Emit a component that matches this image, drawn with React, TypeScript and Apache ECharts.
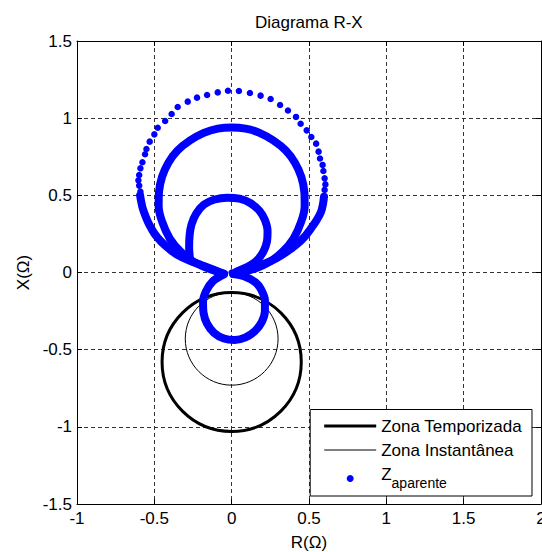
import React, { useEffect, useRef } from 'react';
import * as echarts from 'echarts';

const FONT = "'Liberation Sans', Arial, Helvetica, sans-serif";

const xRange = [-1, 2];
const yRange = [-1.5, 1.5];
const tickStep = 0.5;

// Mho zones: [center R, center X, radius]
const zonaTemporizada = [0, -0.58, 0.45];
const zonaInstantanea = [0, -0.43, 0.3];

// Apparent impedance trajectory (R, X)
const zOuterDots = [
  [-0.59, 0.524], [-0.598, 0.563], [-0.603, 0.597], [-0.598, 0.632], [-0.59, 0.675],
  [-0.577, 0.714], [-0.56, 0.766], [-0.551, 0.8], [-0.53, 0.848], [-0.5, 0.895],
  [-0.478, 0.938], [-0.43, 0.982], [-0.388, 1.027], [-0.349, 1.072], [-0.284, 1.107],
  [-0.224, 1.133], [-0.159, 1.15], [-0.09, 1.167], [-0.024, 1.178],
  [0.047, 1.176], [0.118, 1.163], [0.187, 1.146], [0.252, 1.124], [0.313, 1.085],
  [0.364, 1.05], [0.416, 1.008], [0.446, 0.964], [0.485, 0.921], [0.515, 0.878],
  [0.546, 0.835], [0.562, 0.783], [0.571, 0.739], [0.588, 0.697], [0.593, 0.658],
  [0.601, 0.61], [0.606, 0.571], [0.601, 0.535], [0.597, 0.491],
  [0, 0],
];

const zOuterLeftTail = [
  [-0.592, 0.5], [-0.587, 0.47], [-0.575, 0.415], [-0.555, 0.36], [-0.532, 0.308],
  [-0.498, 0.25], [-0.456, 0.2], [-0.4, 0.15], [-0.349, 0.113], [-0.27, 0.075],
  [-0.198, 0.049], [-0.12, 0.02], [-0.05, -0.008],
];

const zOuterRightTail = [
  [0.597, 0.491], [0.59, 0.44], [0.578, 0.394], [0.55, 0.34], [0.513, 0.286],
  [0.47, 0.23], [0.416, 0.178], [0.35, 0.13], [0.287, 0.091], [0.22, 0.06],
  [0.158, 0.038], [0.08, 0.012], [0.01, -0.008],
];

const zMiddleLoop = [
  [-0.05, -0.008], [-0.15, 0.025], [-0.25, 0.072], [-0.33, 0.135], [-0.4, 0.22],
  [-0.45, 0.33], [-0.472, 0.43], [-0.47, 0.52], [-0.45, 0.62], [-0.41, 0.71],
  [-0.35, 0.79], [-0.27, 0.855], [-0.18, 0.905], [-0.09, 0.932], [0, 0.94],
  [0.09, 0.932], [0.18, 0.905], [0.27, 0.855], [0.35, 0.79], [0.41, 0.71],
  [0.45, 0.62], [0.47, 0.52], [0.472, 0.43], [0.45, 0.33], [0.4, 0.22],
  [0.33, 0.135], [0.25, 0.072], [0.15, 0.025], [0.02, -0.006],
];

const zSmallLoop = [
  [-0.27, 0.09], [-0.275, 0.16], [-0.272, 0.24], [-0.26, 0.31], [-0.23, 0.38],
  [-0.18, 0.44], [-0.11, 0.473], [-0.03, 0.485], [0.05, 0.478], [0.12, 0.45],
  [0.18, 0.4], [0.215, 0.34], [0.232, 0.27], [0.228, 0.2], [0.205, 0.135],
  [0.16, 0.075], [0.1, 0.035], [0.03, 0.005],
];

const zLowerLoop = [
  [-0.05, -0.012], [-0.12, -0.055], [-0.165, -0.12], [-0.185, -0.19], [-0.182, -0.26],
  [-0.16, -0.33], [-0.115, -0.39], [-0.05, -0.428], [0.02, -0.437], [0.09, -0.42],
  [0.15, -0.38], [0.195, -0.32], [0.215, -0.25], [0.215, -0.18], [0.19, -0.11],
  [0.155, -0.065], [0.08, -0.025], [0.01, -0.01],
];

const zDenseStrokes = [zOuterLeftTail, zOuterRightTail, zMiddleLoop, zSmallLoop, zLowerLoop];

const ZNAME = 'Zaparente';
const BLUE = '#0000ff';

function circleSeries(name: string, circle: number[], width: number) {
  return {
    type: 'custom',
    name,
    data: [circle],
    encode: { x: 0, y: 1 },
    silent: true,
    itemStyle: { color: '#000' },
    renderItem: (params: any, api: any) => {
      const c = api.coord([api.value(0), api.value(1)]);
      const s = api.size([api.value(2), api.value(2)]);
      return {
        type: 'ellipse',
        shape: { cx: c[0], cy: c[1], rx: s[0], ry: s[1] },
        style: { fill: 'none', stroke: '#000', lineWidth: width },
      };
    },
    z: 2,
  };
}

export default function App() {
  const ref = useRef<HTMLDivElement>(null);
  useEffect(() => {
    if (!ref.current) return;
    const chart = echarts.init(ref.current, undefined, { renderer: 'svg' });
    const axisCommon = {
      type: 'value',
      interval: tickStep,
      axisLine: { show: true, onZero: false, lineStyle: { color: '#000', width: 1 } },
      axisTick: { show: true, inside: true, length: 5, lineStyle: { color: '#000' } },
    };
    const option: any = {
      animation: false,
      backgroundColor: '#fff',
      textStyle: { fontFamily: FONT },
      title: {
        text: 'Diagrama R-X',
        left: 255,
        top: 14,
        padding: 0,
        textStyle: { fontFamily: FONT, fontSize: 17, fontWeight: 'normal', color: '#000' },
      },
      grid: {
        left: 77,
        right: 1,
        top: 41,
        bottom: 48,
        containLabel: false,
        outerBoundsMode: 'none',
      },
      xAxis: [
        {
          ...axisCommon,
          position: 'bottom',
          min: xRange[0],
          max: xRange[1],
          name: 'R(Ω)',
          nameLocation: 'middle',
          nameGap: 30,
          nameTextStyle: { fontFamily: FONT, fontSize: 17, color: '#000' },
          axisLabel: { margin: 6, fontFamily: FONT, fontSize: 17, color: '#000' },
          splitLine: { show: true, lineStyle: { color: '#333', width: 1, type: [4, 3] } },
        },
        {
          ...axisCommon,
          position: 'top',
          min: xRange[0],
          max: xRange[1],
          axisLabel: { show: false },
          splitLine: { show: false },
        },
      ],
      yAxis: [
        {
          ...axisCommon,
          position: 'left',
          min: yRange[0],
          max: yRange[1],
          name: 'X(Ω)',
          nameLocation: 'middle',
          nameGap: 45,
          nameTextStyle: { fontFamily: FONT, fontSize: 17, color: '#000' },
          axisLabel: { margin: 5, fontFamily: FONT, fontSize: 17, color: '#000' },
          splitLine: { show: true, lineStyle: { color: '#333', width: 1, type: [4, 3] } },
        },
        {
          ...axisCommon,
          position: 'right',
          min: yRange[0],
          max: yRange[1],
          axisLabel: { show: false },
          splitLine: { show: false },
        },
      ],
      legend: {
        orient: 'vertical',
        right: 10,
        bottom: 56,
        padding: [8, 10, 6, 14],
        itemGap: 7,
        itemWidth: 52,
        itemHeight: 7,
        selectedMode: false,
        backgroundColor: '#fff',
        borderColor: '#000',
        borderWidth: 1,
        borderRadius: 0,
        textStyle: {
          fontFamily: FONT,
          fontSize: 17,
          color: '#000',
          rich: {
            z: { fontFamily: FONT, fontSize: 17, color: '#000', padding: [0, 0, 9, 0] },
            s: { fontFamily: FONT, fontSize: 14, color: '#000', padding: [9, 0, 0, 0] },
          },
        },
        formatter: (name: string) => (name === ZNAME ? '{z|Z}{s|aparente}' : name),
        data: [
          { name: 'Zona Temporizada', icon: 'path://M0 0H52V3H0Z' },
          { name: 'Zona Instantânea', icon: 'path://M0 0H52V1H0Z' },
          { name: ZNAME, icon: 'circle' },
        ],
      },
      series: [
        circleSeries('Zona Temporizada', zonaTemporizada, 3),
        circleSeries('Zona Instantânea', zonaInstantanea, 1),
        {
          type: 'scatter',
          name: ZNAME,
          data: zOuterDots,
          symbol: 'circle',
          symbolSize: 6.5,
          itemStyle: { color: BLUE, opacity: 1 },
          silent: true,
          z: 4,
        },
        ...zDenseStrokes.map((d) => ({
          type: 'line',
          name: ZNAME,
          data: d,
          showSymbol: false,
          symbol: 'none',
          smooth: 0.3,
          silent: true,
          itemStyle: { color: BLUE },
          lineStyle: { color: BLUE, width: 8, cap: 'round', join: 'round' },
          emphasis: { disabled: true },
          z: 3,
        })),
      ],
    };
    chart.setOption(option);
    return () => chart.dispose();
  }, []);
  return (
    <div
      ref={ref}
      style={{ position: 'absolute', left: 0, top: 0, width: 542, height: 552 }}
    />
  );
}
